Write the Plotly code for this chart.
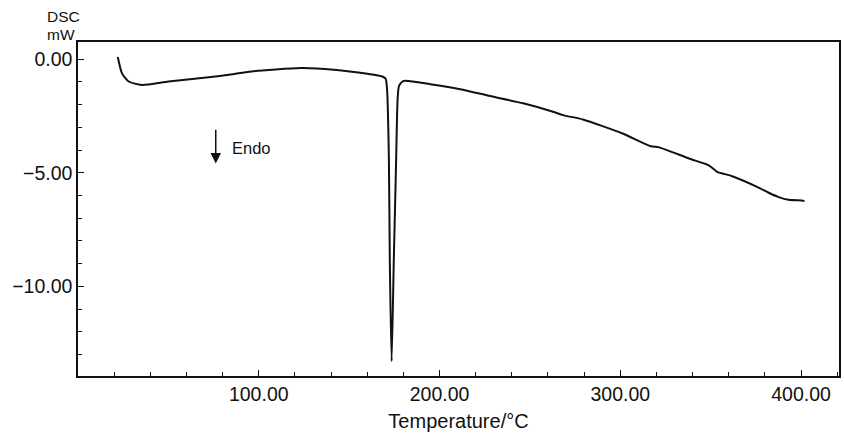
import plotly.graph_objects as go

# DSC curve
temperature = [22.0, 24.3, 28.0, 35.3, 50.0, 68.4, 86.5, 95.9, 123.4, 141.6, 160.1, 168.4,
               170.2, 171.0, 172.0, 172.5, 173.5, 174.7, 176.0, 176.8, 177.6, 180.2,
               194.9, 211.4, 228.0, 246.3, 262.8, 268.3, 279.3, 301.3, 316.9, 321.5,
               338.0, 349.0, 353.6, 361.9, 376.5, 382.1, 387.6, 393.1, 400.4, 401.9]
dsc_mw = [0.10, -0.61, -0.98, -1.13, -0.98, -0.83, -0.65, -0.54, -0.39, -0.46, -0.64, -0.76,
          -0.86, -1.35, -4.45, -8.87, -13.30, -8.87, -4.45, -1.79, -1.17, -0.95,
          -1.10, -1.32, -1.62, -1.94, -2.31, -2.46, -2.65, -3.27, -3.83, -3.88,
          -4.37, -4.67, -4.96, -5.15, -5.65, -5.88, -6.07, -6.19, -6.22, -6.24]

x_ticks = [100, 200, 300, 400]
x_tick_labels = ["100.00", "200.00", "300.00", "400.00"]
y_ticks = [0, -5, -10]
y_tick_labels = ["0.00", "\u22125.00", "\u221210.00"]

FONT = "Liberation Sans, Arial, sans-serif"

fig = go.Figure()
fig.add_trace(go.Scatter(x=temperature, y=dsc_mw, mode="lines",
                         line=dict(color="#111111", width=2, shape="spline", smoothing=0.6),
                         showlegend=False, hoverinfo="skip"))

axis_common = dict(showline=True, linecolor="#111111", linewidth=1.5, mirror=True,
                   showgrid=False, zeroline=False, ticks="inside", ticklen=6,
                   tickwidth=1, tickcolor="#111111",
                   tickfont=dict(family=FONT, size=19.5, color="#111111"))

fig.update_xaxes(range=[0, 421], tickvals=x_ticks, ticktext=x_tick_labels,
                 minor=dict(dtick=20, tick0=0, ticks="inside", ticklen=4, tickcolor="#111111"),
                 title=dict(text="Temperature/°C", font=dict(family=FONT, size=20, color="#111111"),
                            standoff=10),
                 **axis_common)
fig.update_yaxes(range=[-13.95, 0.76], tickvals=y_ticks, ticktext=y_tick_labels,
                 minor=dict(dtick=1, tick0=0, ticks="inside", ticklen=4, tickcolor="#111111"),
                 **axis_common)

fig.add_annotation(xref="paper", yref="paper", x=-0.0195, y=1.077, xanchor="center", yanchor="middle",
                   text="DSC", showarrow=False, borderpad=0,
                   font=dict(family=FONT, size=15.5, color="#111111"))
fig.add_annotation(xref="paper", yref="paper", x=-0.022, y=1.023, xanchor="center", yanchor="middle",
                   text="mW", showarrow=False, borderpad=0,
                   font=dict(family=FONT, size=15.5, color="#111111"))
fig.add_annotation(x=76.2, y=-4.59, ax=76.2, ay=-3.04, xref="x", yref="y", axref="x", ayref="y",
                   text="", showarrow=True, arrowhead=2, arrowsize=1.4, arrowwidth=1.5,
                   arrowcolor="#111111")
fig.add_annotation(x=84.0, y=-3.93, xref="x", yref="y", text="Endo", showarrow=False,
                   xanchor="left", yanchor="middle",
                   font=dict(family=FONT, size=16.5, color="#111111"))

fig.update_layout(width=844, height=433, margin=dict(l=78, r=3, t=42, b=57),
                  plot_bgcolor="white", paper_bgcolor="white")

fig.write_html("out.html")
